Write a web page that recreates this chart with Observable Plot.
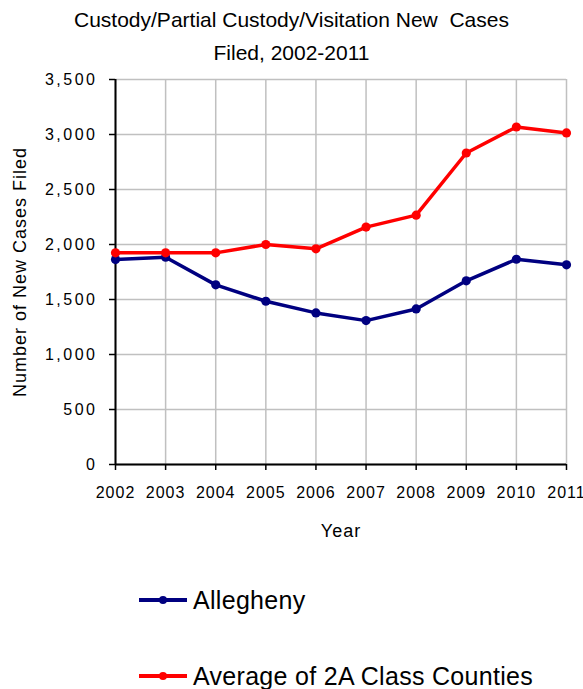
<!DOCTYPE html>
<html>
<head>
<meta charset="utf-8">
<script src="https://cdn.jsdelivr.net/npm/d3@7"></script>
<script src="https://cdn.jsdelivr.net/npm/@observablehq/plot@0.6"></script>
<style>
  html, body { margin: 0; padding: 0; background: #fff; }
  #wrap { position: relative; width: 583px; height: 689px; overflow: hidden; font-family: "Liberation Sans", Arial, sans-serif; color: #000; }
  #title { position: absolute; left: 0; top: 3px; width: 583px; text-align: center; font-size: 21px; line-height: 33px; }
  #chart { position: absolute; left: 0; top: 69px; }
  #chart svg { font-family: "Liberation Sans", Arial, sans-serif; }
  g[aria-label="x-axis tick label"] text { font-size: 16px; letter-spacing: 1px; }
  g[aria-label="y-axis tick label"] text { font-size: 16px; letter-spacing: 2.5px; }
  g[aria-label="x-axis label"] text { font-size: 18px; letter-spacing: 1px; }
  g[aria-label="y-axis label"] text { font-size: 18px; letter-spacing: 1px; }
  .legrow { position: absolute; left: 139px; height: 30px; display: flex; align-items: center; font-size: 25px; letter-spacing: 0.3px; white-space: nowrap; }
  .legrow svg { margin-right: 6px; }
</style>
</head>
<body>
<div id="wrap">
  <div id="title">Custody/Partial Custody/Visitation New&nbsp; Cases<br>Filed, 2002-2011</div>
  <div id="chart"></div>
</div>
<script>
const years = [2002, 2003, 2004, 2005, 2006, 2007, 2008, 2009, 2010, 2011];
const allegheny = [1863, 1884, 1633, 1484, 1378, 1308, 1414, 1670, 1866, 1815];
const average2A = [1924, 1924, 1924, 2000, 1961, 2158, 2267, 2832, 3068, 3014];
const seriesNames = ["Allegheny", "Average of 2A Class Counties"];
const seriesColors = ["#000080", "#ff0000"];
const yTicks = [0, 500, 1000, 1500, 2000, 2500, 3000, 3500];

const rows = [];
[allegheny, average2A].forEach((vals, si) => {
  years.forEach((y, i) => rows.push({year: y, value: vals[i], series: seriesNames[si]}));
});

const chart = Plot.plot({
  width: 583,
  height: 481,
  marginTop: 10,
  marginBottom: 86,
  marginLeft: 115,
  marginRight: 17,
  style: {fontFamily: "Liberation Sans, Arial, sans-serif", color: "#000", background: "transparent", overflow: "visible"},
  x: {domain: [2002, 2011]},
  y: {domain: [0, 3500]},
  color: {domain: seriesNames, range: seriesColors},
  marks: [
    Plot.gridX(years, {stroke: "#c0c0c0", strokeOpacity: 1, strokeWidth: 1.5}),
    Plot.gridY(yTicks, {stroke: "#c0c0c0", strokeOpacity: 1, strokeWidth: 1.5}),
    Plot.axisX(years, {tickFormat: d => String(d), tickSize: 6, tickPadding: 16, stroke: "#000", strokeWidth: 1.5,
      label: "Year", labelAnchor: "center", labelArrow: "none", labelOffset: 72}),
    Plot.axisY(yTicks, {tickFormat: d3.format(","), tickSize: 6, tickPadding: 12, stroke: "#000", strokeWidth: 1.5,
      label: "Number of New Cases Filed", labelAnchor: "center", labelArrow: "none", labelOffset: 102}),
    Plot.ruleY([0], {stroke: "#000", strokeWidth: 2}),
    Plot.ruleX([2002], {stroke: "#000", strokeWidth: 2}),
    Plot.line(rows, {x: "year", y: "value", stroke: "series", strokeWidth: 3.5}),
    Plot.dot(rows, {x: "year", y: "value", fill: "series", r: 4.6})
  ]
});
document.getElementById("chart").appendChild(chart);

// legend
const legendCenters = [600, 676];
seriesNames.forEach((name, i) => {
  const row = document.createElement("div");
  row.className = "legrow";
  row.style.top = (legendCenters[i] - 15) + "px";
  const sw = d3.create("svg").attr("width", 48).attr("height", 30);
  sw.append("line").attr("x1", 0).attr("x2", 48).attr("y1", 15).attr("y2", 15)
    .attr("stroke", seriesColors[i]).attr("stroke-width", 4);
  sw.append("circle").attr("cx", 24).attr("cy", 15).attr("r", 4).attr("fill", seriesColors[i]);
  row.appendChild(sw.node());
  const t = document.createElement("span");
  t.textContent = name;
  row.appendChild(t);
  document.getElementById("wrap").appendChild(row);
});
</script>
</body>
</html>
